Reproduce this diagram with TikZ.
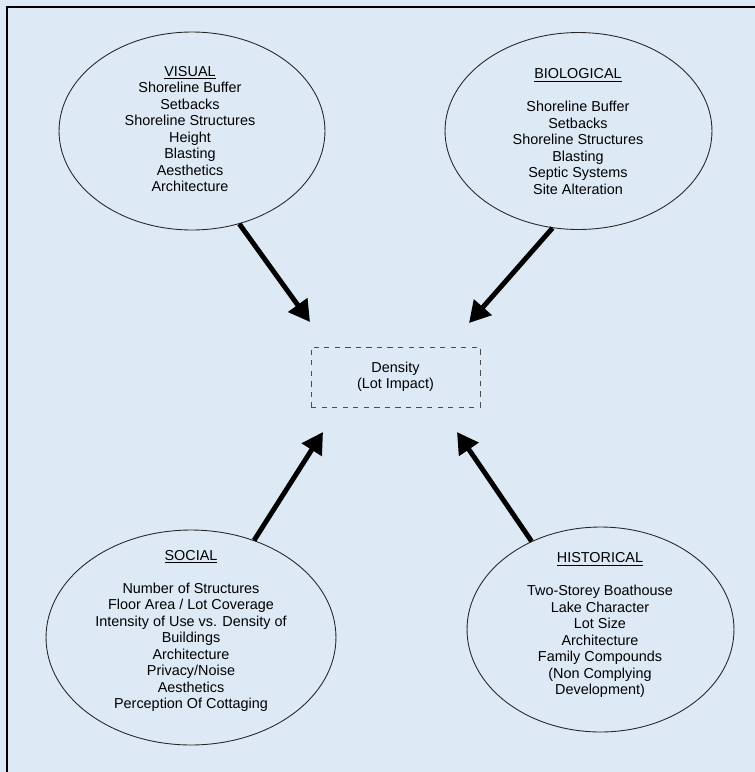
\documentclass[tikz,border=0pt]{standalone}
\usepackage{fontspec}
\setmainfont{Liberation Sans}
\usetikzlibrary{shapes.geometric,arrows.meta}
\definecolor{paper}{RGB}{221,234,246}
\tikzset{
  bubble/.style={ellipse, draw=black!85, line width=0.5pt, inner sep=0pt},
  bubbletext/.style={align=center, inner sep=0pt, font=\fontsize{8.2}{9.4}\selectfont},
  bigarrow/.style={line width=2.8pt, -{Triangle[length=12pt, width=13pt]}},
}
\begin{document}
\begin{tikzpicture}[x=0.02cm, y=-0.02cm]
    % Hintergrund und Rahmen
    \fill[paper] (0,0) rectangle (755,772);
    \useasboundingbox (0,0) rectangle (755,772);
    \draw[line width=1.2pt] (7,772) -- (7,7) -- (755,7);
    % die vier Ellipsen
    \node[bubble, minimum width=5.32cm, minimum height=3.96cm] (vis) at (192,131) {};
    \node[bubble, minimum width=5.34cm, minimum height=3.94cm] (bio) at (578.5,131) {};
    \node[bubble, minimum width=5.8cm, minimum height=4.3cm] (soc) at (191,637.5) {};
    \node[bubble, minimum width=5.34cm, minimum height=4.1cm] (his) at (600.5,629.5) {};
    \node[bubbletext] (vistext) at (190,129) {\underline{VISUAL}\\ Shoreline Buffer\\ Setbacks\\ Shoreline Structures\\ Height\\ Blasting\\ Aesthetics\\ Architecture};
    \node[bubbletext] (biotext) at (578,131.5) {\underline{BIOLOGICAL}\\[9.4pt] Shoreline Buffer\\ Setbacks\\ Shoreline Structures\\ Blasting\\ Septic Systems\\ Site Alteration};
    \node[bubbletext] (soctext) at (191,631) {\underline{SOCIAL}\\[9.4pt] Number of Structures\\ Floor Area / Lot Coverage\\ Intensity of Use vs. Density of\\ Buildings\\ Architecture\\ Privacy/Noise\\ Aesthetics\\ Perception Of Cottaging};
    \node[bubbletext] (histext) at (600,625) {\underline{HISTORICAL}\\[9.4pt] Two-Storey Boathouse\\ Lake Character\\ Lot Size\\ Architecture\\ Family Compounds\\ (Non Complying\\ Development)};
    % Mitte
    \node[draw=black!70, dashed, line width=0.5pt, minimum width=3.38cm, minimum height=1.2cm, bubbletext] (den) at (395.5,377) {Density\\ (Lot Impact)};
    % Pfeile
    \coordinate (vistip) at (310,322);
    \coordinate (biotip) at (469,323);
    \coordinate (soctip) at (323,432);
    \coordinate (histip) at (457,432);
    \draw[bigarrow] (vis.-63) -- (vistip);
    \draw[bigarrow] (bio.255) -- (biotip);
    \draw[bigarrow] (soc.57) -- (soctip);
    \draw[bigarrow] (his.128) -- (histip);
\end{tikzpicture}
\end{document}
